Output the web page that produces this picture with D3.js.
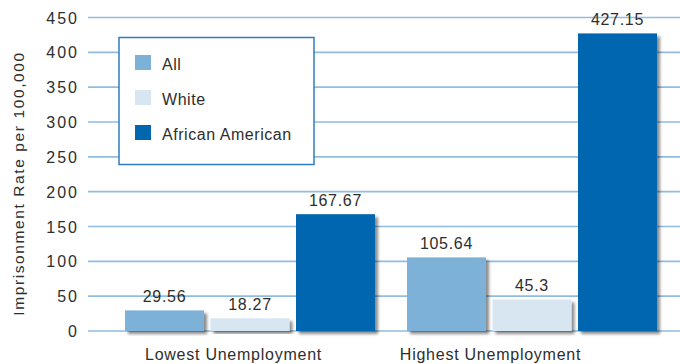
<!DOCTYPE html>
<html>
<head>
<meta charset="utf-8">
<script src="https://cdn.jsdelivr.net/npm/d3@7"></script>
<style>
  html, body { margin: 0; padding: 0; background: #fff; }
  svg { display: block; font-family: "Liberation Sans", Arial, sans-serif; }
</style>
</head>
<body>
<svg id="chart" width="680" height="364"></svg>
<script>
// Imprisonment rate per 100,000 by county unemployment level
const groups = ["Lowest Unemployment", "Highest Unemployment"];
const series = ["All", "White", "African American"];
const allRates = [29.56, 105.64];
const whiteRates = [18.27, 45.3];
const africanAmericanRates = [167.67, 427.15];
const yTicks = [0, 50, 100, 150, 200, 250, 300, 350, 400, 450];
const yTitle = "Imprisonment Rate per 100,000";

const colors = { "All": "#7db1d8", "White": "#d8e6f2", "African American": "#0066b0" };
const valuesBySeries = { "All": allRates, "White": whiteRates, "African American": africanAmericanRates };

const svg = d3.select("#chart");
const textColor = "#2e2e2e";

// drop shadow for bars
const defs = svg.append("defs");
const shadow = defs.append("filter").attr("id", "barShadow")
  .attr("x", "-10%").attr("y", "-10%").attr("width", "130%").attr("height", "130%");
shadow.append("feDropShadow")
  .attr("dx", 3).attr("dy", 3).attr("stdDeviation", 1.8)
  .attr("flood-color", "#000").attr("flood-opacity", 0.45);

// scales
const y = d3.scaleLinear().domain([0, 450]).range([331, 17.5]);
const x0 = d3.scaleBand().domain(groups).range([125, 657]).paddingInner(32 / 282);
const x1 = d3.scaleBand().domain(series).range([0, x0.bandwidth()]).paddingInner(0.076);
const xLabel = d3.scaleBand().domain(groups).range([105, 619]);

// grid lines
svg.append("g").selectAll("line").data(yTicks).join("line")
  .attr("x1", 88).attr("x2", 680)
  .attr("y1", d => y(d)).attr("y2", d => y(d))
  .attr("stroke", "#8fbce0").attr("stroke-width", 1.6);

// y tick labels
svg.append("g").selectAll("text").data(yTicks).join("text")
  .attr("x", 79).attr("y", d => y(d) + 6)
  .attr("text-anchor", "end")
  .attr("font-size", 16).attr("letter-spacing", 2)
  .attr("fill", textColor)
  .text(d => d);

// y axis title
svg.append("text")
  .attr("transform", `translate(24, ${(50 + 317) / 2}) rotate(-90)`)
  .attr("text-anchor", "middle")
  .attr("font-size", 15.5).attr("letter-spacing", 1.6)
  .attr("fill", textColor)
  .text(yTitle);

// bars
const barData = [];
groups.forEach((g, gi) => {
  series.forEach(s => barData.push({ group: g, series: s, value: valuesBySeries[s][gi] }));
});

const barG = svg.append("g");
barG.selectAll("rect").data(barData).join("rect")
  .attr("x", d => x0(d.group) + x1(d.series))
  .attr("y", d => y(d.value))
  .attr("width", x1.bandwidth())
  .attr("height", d => y(0) - y(d.value))
  .attr("fill", d => colors[d.series])
  .attr("filter", "url(#barShadow)");

// value labels
svg.append("g").selectAll("text").data(barData).join("text")
  .attr("x", d => x0(d.group) + x1(d.series) + x1.bandwidth() / 2)
  .attr("y", d => y(d.value) - 8)
  .attr("text-anchor", "middle")
  .attr("font-size", 16).attr("letter-spacing", 0.7)
  .attr("fill", textColor)
  .text(d => d.value);

// category labels
const xAxis = svg.append("g").attr("transform", "translate(0, 360)")
  .call(d3.axisBottom(xLabel).tickSize(0).tickPadding(0));
xAxis.select(".domain").remove();
xAxis.selectAll("text")
  .attr("y", 0).attr("dy", 0)
  .attr("font-family", "'Liberation Sans', Arial, sans-serif")
  .attr("font-size", 16).attr("letter-spacing", 0.75)
  .attr("fill", textColor);

// legend
const legend = svg.append("g");
legend.append("rect")
  .attr("x", 119).attr("y", 37.5).attr("width", 195).attr("height", 127)
  .attr("fill", "#fff").attr("stroke", "#2f7cc0").attr("stroke-width", 1.5);
const items = legend.selectAll("g.item").data(series).join("g")
  .attr("class", "item")
  .attr("transform", (d, i) => `translate(135, ${55 + i * 35})`);
items.append("rect")
  .attr("width", 16).attr("height", 15)
  .attr("fill", d => colors[d]);
items.append("text")
  .attr("x", 27).attr("y", 14.5)
  .attr("font-size", 16).attr("letter-spacing", 0.55)
  .attr("fill", textColor)
  .text(d => d);
</script>
</body>
</html>
